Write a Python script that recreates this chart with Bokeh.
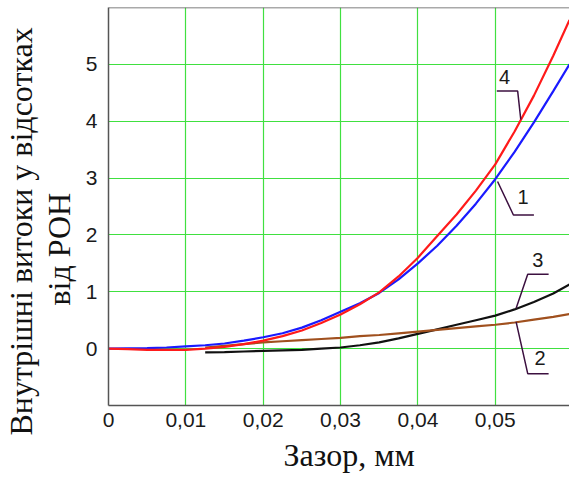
from bokeh.plotting import figure
from bokeh.models import FixedTicker, Span, Range1d, ColumnDataSource, CustomJSTickFormatter, Title
from bokeh.core.properties import value
from bokeh.embed import file_html
from bokeh.resources import INLINE

# ---- data ----
x_ticks = [0, 0.01, 0.02, 0.03, 0.04, 0.05]
x_tick_labels = ["0", "0,01", "0,02", "0,03", "0,04", "0,05"]
y_ticks = [0, 1, 2, 3, 4, 5]

x_main = [0, 0.0025, 0.005, 0.0075, 0.01, 0.0125, 0.015, 0.0175, 0.02, 0.0225,
          0.025, 0.0275, 0.03, 0.0325, 0.035, 0.0375, 0.04, 0.0425, 0.045, 0.0475,
          0.05, 0.0525, 0.055, 0.0575, 0.0596]
curve1_blue = [0, 0.005, 0.01, 0.02, 0.04, 0.06, 0.09, 0.14, 0.2, 0.27,
               0.37, 0.5, 0.65, 0.8, 0.98, 1.22, 1.5, 1.81, 2.16, 2.55,
               2.98, 3.46, 3.98, 4.53, 5.0]
curve4_red = [0, -0.01, -0.02, -0.02, -0.02, 0.0, 0.03, 0.08, 0.14, 0.22,
              0.32, 0.45, 0.6, 0.78, 0.99, 1.27, 1.6, 1.98, 2.36, 2.78,
              3.24, 3.82, 4.45, 5.15, 5.78]

x_late = [0.0125, 0.015, 0.0175, 0.02, 0.0225, 0.025, 0.0275, 0.03, 0.0325, 0.035,
          0.0375, 0.04, 0.0425, 0.045, 0.0475, 0.05, 0.0525, 0.055, 0.0575, 0.0596]
curve3_black = [-0.065, -0.06, -0.05, -0.04, -0.03, -0.02, 0.0, 0.02, 0.06, 0.11,
                0.18, 0.26, 0.34, 0.42, 0.5, 0.58, 0.69, 0.82, 0.97, 1.13]
curve2_brown = [0.02, 0.05, 0.08, 0.11, 0.13, 0.15, 0.17, 0.19, 0.22, 0.24,
                0.27, 0.3, 0.33, 0.36, 0.39, 0.42, 0.46, 0.51, 0.56, 0.61]

callout_names = ["4", "1", "3", "2"]
callout_text_x = [0.0512, 0.0536, 0.0555, 0.0558]
callout_text_y = [4.77, 2.67, 1.56, -0.17]
leader_xs = [[0.0502, 0.0529, 0.0533], [0.0503, 0.05235, 0.0550],
             [0.0569, 0.0542, 0.0527], [0.0527, 0.0542, 0.0569]]
leader_ys = [[4.53, 4.53, 4.03], [2.94, 2.35, 2.35],
             [1.31, 1.31, 0.71], [0.47, -0.44, -0.44]]

y_title_1 = "Внутрішні витоки у відсотках"
y_title_2 = "від РОН"
x_title = "Зазор, мм"

# ---- figure ----
W, H = 569, 484
p = figure(width=W, height=H, x_range=Range1d(0, 0.0596), y_range=Range1d(-1, 6),
           output_backend="svg", toolbar_location=None,
           min_border_left=108, min_border_right=0, min_border_top=7, min_border_bottom=79)
p.background_fill_color = "white"
p.border_fill_color = "white"
p.outline_line_color = None

p.xaxis.ticker = FixedTicker(ticks=x_ticks)
p.yaxis.ticker = FixedTicker(ticks=y_ticks)
p.xaxis.formatter = CustomJSTickFormatter(
    args=dict(tv=x_ticks, tl=x_tick_labels),
    code="""
let best = 0;
for (let i = 0; i < tv.length; i++) {
  if (Math.abs(tv[i] - tick) < Math.abs(tv[best] - tick)) best = i;
}
return tl[best];
""")

for ax in (p.xaxis, p.yaxis):
    ax.major_tick_line_color = None
    ax.minor_tick_line_color = None
    ax.axis_line_color = "#555555"
    ax.axis_line_width = 1.5
    ax.major_label_text_font = "Liberation Sans"
    ax.major_label_text_font_size = "21px"
    ax.major_label_text_color = "#1a1a1a"
p.yaxis.major_label_standoff = 5
p.xaxis.major_label_standoff = 1
# blank spacer label: opens a small gap between the tick labels and the y titles
p.yaxis.axis_label = " "
p.yaxis.axis_label_text_font_size = "1px"
p.yaxis.axis_label_standoff = 2

p.grid.grid_line_color = "#40e040"
p.grid.grid_line_width = 1.2

p.add_layout(Span(location=6, dimension="width", line_color="#555555", line_width=1.5))

p.line(x_late, curve3_black, line_color="#111111", line_width=2.2)
p.line(x_late, curve2_brown, line_color="#a0501e", line_width=2.2)
p.line(x_main, curve1_blue, line_color="#1a1aff", line_width=2.2)
p.line(x_main, curve4_red, line_color="#ff1a1a", line_width=2.2)

p.multi_line(leader_xs, leader_ys, line_color="#3c1040", line_width=1.5)
src = ColumnDataSource(dict(x=callout_text_x, y=callout_text_y, t=callout_names))
p.text(x="x", y="y", text="t", source=src, text_font=value("Liberation Sans"),
       text_font_size="20px", text_align="center", text_baseline="middle",
       text_color="#1a1a1a")

# axis titles as side-panel titles
def mk_title(text, align, offset, standoff):
    return Title(text=text, align=align, offset=offset, standoff=standoff,
                 text_font="Liberation Serif", text_font_size="32px",
                 text_font_style="normal", text_color="#111111")

p.add_layout(mk_title(y_title_2, "left", 100, 0), "left")
p.add_layout(mk_title(y_title_1, "left", -30, 0), "left")
p.add_layout(mk_title(x_title, "left", 175, 11), "below")

open("out.html", "w").write(file_html(p, INLINE))
